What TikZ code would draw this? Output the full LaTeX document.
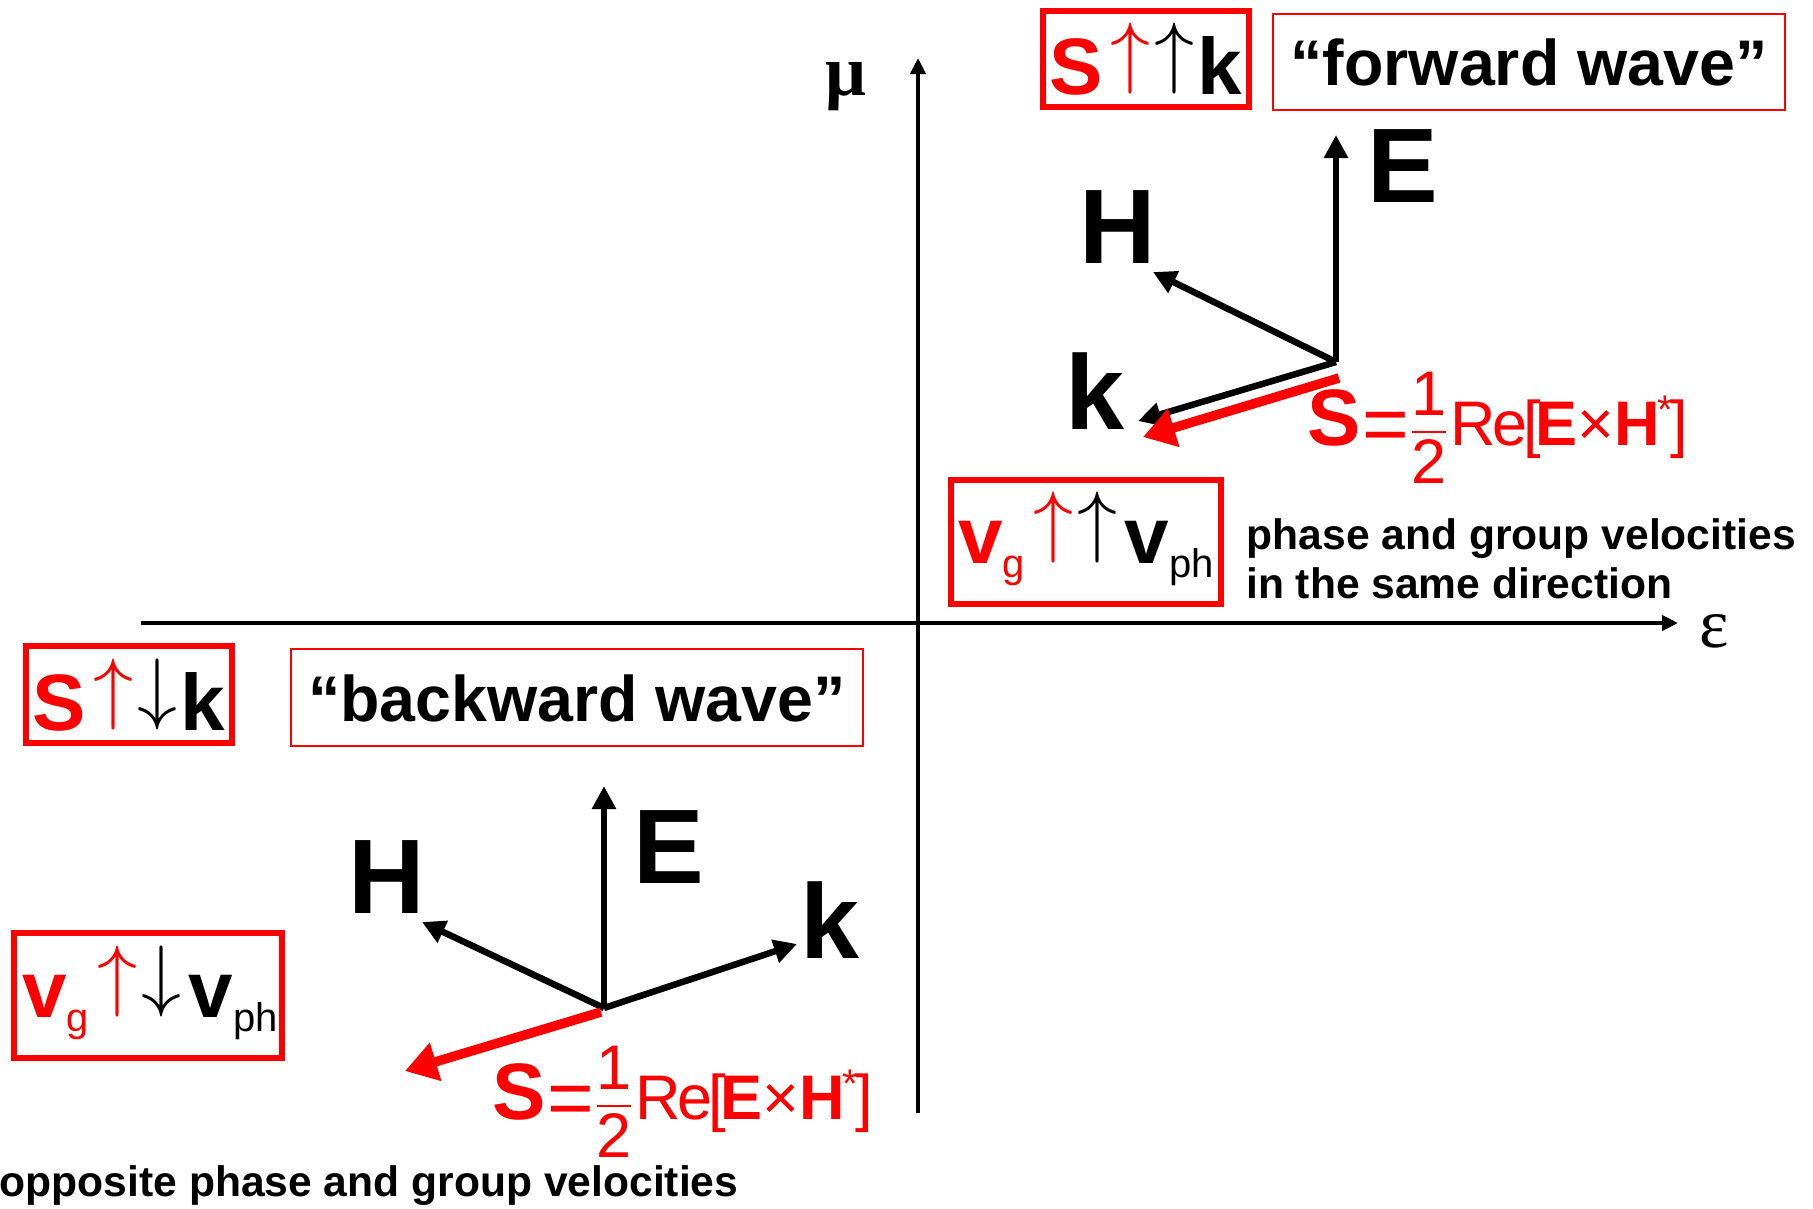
\RequirePackage{fix-cm}
\documentclass[tikz,border=0pt]{standalone}
\usepackage{fontspec}
\setmainfont{Liberation Sans}
\newfontfamily\serifgr{Liberation Serif}
\usetikzlibrary{arrows.meta}
\newcommand\fsz[1]{\fontsize{#1}{#1}\selectfont}
\newcommand\upar{\raisebox{0.194em}{$\uparrow$}}
\newcommand\dnar{\raisebox{0.194em}{$\downarrow$}}
\newcommand\subtx[1]{\lower14pt\hbox{\fsz{40}\mdseries #1}}
\newcommand\myfr{\rlap{\makebox[34pt]{\raisebox{30pt}{1}}}\rlap{\makebox[34pt]{\raisebox{-38pt}{2}}}\rule[12pt]{34pt}{2.5pt}}
\newcommand\poyn{{\fsz{80}\bfseries S}\kern2pt\raisebox{-6pt}{\fsz{80}=}\kern3pt\myfr\kern4pt R\kern-3pt e\kern-4pt[\kern-6pt\textbf{E}×\textbf{H}\kern-2pt\raisebox{22pt}{\fsz{40}*}\kern-3pt]}
\begin{document}
\begin{tikzpicture}[x=1pt,y=-1pt,
  thickbox/.style={draw=red,line width=6pt,inner sep=0pt,anchor=base},
  thinbox/.style={draw=red,line width=2pt,inner sep=0pt,anchor=base},
  axis/.style={line width=4.5pt,-{Triangle[length=16pt,width=15pt]}},
  vec/.style={line width=6.5pt,-{Triangle[length=23pt,width=23pt]}},
  svec/.style={draw=red,line width=9.5pt,-{Triangle[length=32pt,width=38pt]}},
  big/.style={font=\fsz{106}\bfseries,inner sep=0pt,anchor=base},
  plain/.style={font=\fsz{42.6}\bfseries,inner sep=0pt,anchor=base west},
  formula/.style={font=\fsz{63},text=red,inner sep=0pt,anchor=base west}]
\useasboundingbox (0,0) rectangle (1813,1208);
% axes
\coordinate (ybot) at (918,1113);
\coordinate (ytop) at (918,58);
\coordinate (xleft) at (141,623);
\coordinate (xright) at (1678,623);
\draw[axis] (ybot) -- (ytop);
\draw[axis] (xleft) -- (xright);
\node[anchor=base,inner sep=0pt,font=\serifgr\bfseries\fsz{72}] (mu) at (846,95) {μ};
\node[anchor=base,inner sep=0pt,font=\serifgr\fsz{70}] (eps) at (1714,647) {ε};
% upper vectors
\coordinate (O1) at (1336,362);
\coordinate (E1) at (1336,135);
\coordinate (H1) at (1153,272);
\coordinate (K1) at (1138,421);
\coordinate (S1a) at (1339,378);
\coordinate (S1b) at (1143,437);
\draw[vec] (O1) -- (E1);
\draw[vec] (O1) -- (H1);
\draw[vec] (O1) -- (K1);
\draw[svec] (S1a) -- (S1b);
\node[big] (Et1) at (1403,202) {E};
\node[big] (Ht1) at (1118,263) {H};
\node[big] (Kt1) at (1095,429) {k};
\node[formula] (poy1) at (1307,445) {\poyn};
% lower vectors
\coordinate (O2) at (604,1008);
\coordinate (E2) at (604,786);
\coordinate (H2) at (422,922);
\coordinate (K2) at (797,944);
\coordinate (S2a) at (601,1012);
\coordinate (S2b) at (405,1071);
\draw[vec] (O2) -- (E2);
\draw[vec] (O2) -- (H2);
\draw[vec] (O2) -- (K2);
\draw[svec] (S2a) -- (S2b);
\node[big] (Et2) at (669,883) {E};
\node[big] (Ht2) at (387,913) {H};
\node[big] (Kt2) at (830,958) {k};
\node[formula] (poy2) at (492,1119) {\poyn};
% boxes
\node[thickbox,minimum width=206pt,text height=83pt,text depth=13pt,font=\fsz{80}\bfseries] (fwdsym) at (1146,94) {\textcolor{red}{S\kern8pt\upar}\kern4pt\upar\kern3pt k};
\node[thinbox,minimum width=512pt,text height=71pt,text depth=25pt,font=\fsz{64.5}\bfseries] (fwd) at (1529,85) {“forward wave”};
\node[thickbox,minimum width=206pt,text height=84pt,text depth=13pt,font=\fsz{80}\bfseries] (bwdsym) at (129,730) {\textcolor{red}{S\kern8pt\upar}\kern4pt\dnar\kern3pt k};
\node[thinbox,minimum width=572pt,text height=72pt,text depth=25pt,font=\fsz{64.5}\bfseries] (bwd) at (577,721) {“backward wave”};
\node[thickbox,minimum width=270pt,text height=83pt,text depth=41pt,font=\fsz{80}\bfseries] (vsame) at (1086,563) {\textcolor{red}{v\subtx{g}\kern9pt\upar}\kern4pt\upar\kern7pt v\subtx{ph}};
\node[thickbox,minimum width=268pt,text height=84pt,text depth=41pt,font=\fsz{80}\bfseries] (vopp) at (148,1017) {\kern4pt\textcolor{red}{v\subtx{g}\kern9pt\upar}\kern4pt\dnar\kern7pt v\subtx{ph}};
% texts
\node[plain] (same1) at (1246.5,549) {phase and group velocities};
\node[plain] (same2) at (1246,598) {in the same direction};
\node[plain] (opp) at (-0.5,1196) {opposite phase and group velocities};
\end{tikzpicture}
\end{document}
